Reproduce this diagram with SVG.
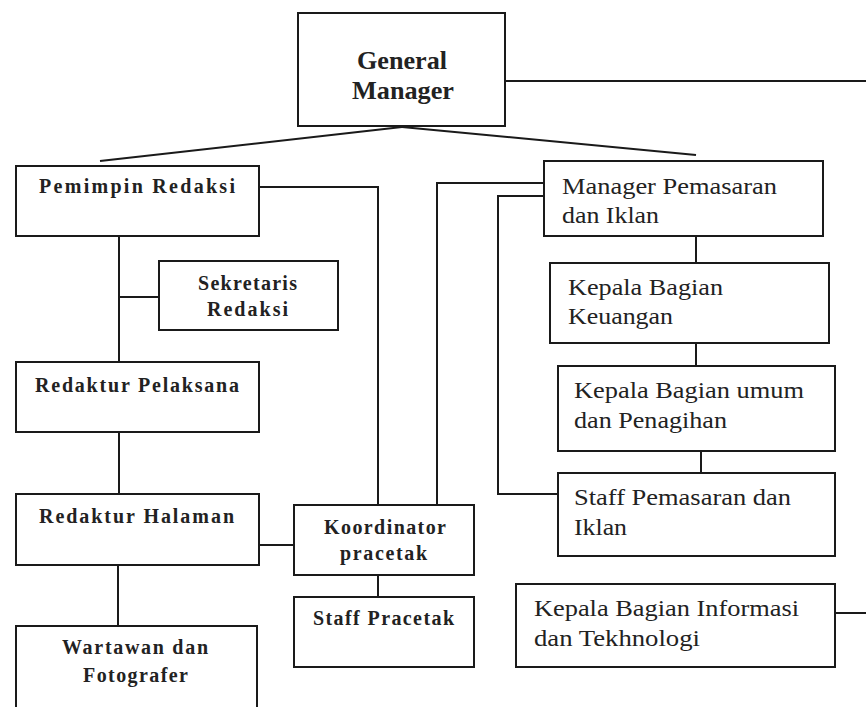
<svg xmlns="http://www.w3.org/2000/svg" width="866" height="707" viewBox="0 0 866 707">
<style>
.box{fill:#fff;stroke:#1a1a1a;stroke-width:2}
.ln{fill:none;stroke:#1a1a1a;stroke-width:2}
.b{font-family:"Liberation Serif","Times New Roman",serif;font-weight:bold;font-size:20px;fill:#222}
.gm{font-family:"Liberation Serif","Times New Roman",serif;font-weight:bold;font-size:26px;fill:#222}
.r{font-family:"Liberation Serif","Times New Roman",serif;font-size:24px;fill:#222}
</style>
<rect width="866" height="707" fill="#fff"/>
<g id="connectors">
<path class="ln" d="M505 81H866"/>
<path class="ln" d="M402 127L100 161"/>
<path class="ln" d="M402 127L696 155"/>
<path class="ln" d="M259 187H378V505"/>
<path class="ln" d="M119 236V362"/>
<path class="ln" d="M119 297H159"/>
<path class="ln" d="M119 432V494"/>
<path class="ln" d="M259 545H294"/>
<path class="ln" d="M378 575V597"/>
<path class="ln" d="M118 565V626"/>
<path class="ln" d="M544 183H437V505"/>
<path class="ln" d="M544 196H498V494H558"/>
<path class="ln" d="M696 236V263"/>
<path class="ln" d="M696 343V366"/>
<path class="ln" d="M701 451V473"/>
<path class="ln" d="M835 613H866"/>
</g>
<g id="general-manager">
<rect class="box" x="298" y="13" width="207" height="113"/>
<text class="gm" x="357" y="69" textLength="90" lengthAdjust="spacingAndGlyphs">General</text>
<text class="gm" x="352" y="99" textLength="102" lengthAdjust="spacingAndGlyphs">Manager</text>
</g>
<g id="pemimpin-redaksi">
<rect class="box" x="16" y="166" width="243" height="70"/>
<text class="b" x="39" y="193" textLength="196">Pemimpin Redaksi</text>
</g>
<g id="sekretaris-redaksi">
<rect class="box" x="159" y="261" width="179" height="69"/>
<text class="b" x="198" y="290" textLength="99">Sekretaris</text>
<text class="b" x="207" y="316" textLength="81">Redaksi</text>
</g>
<g id="redaktur-pelaksana">
<rect class="box" x="16" y="362" width="243" height="70"/>
<text class="b" x="35" y="392" textLength="204">Redaktur Pelaksana</text>
</g>
<g id="redaktur-halaman">
<rect class="box" x="16" y="494" width="243" height="71"/>
<text class="b" x="39" y="523" textLength="195">Redaktur Halaman</text>
</g>
<g id="wartawan-fotografer">
<rect class="box" x="16" y="626" width="241" height="100"/>
<text class="b" x="62" y="654" textLength="146">Wartawan dan</text>
<text class="b" x="83" y="682" textLength="105">Fotografer</text>
</g>
<g id="koordinator-pracetak">
<rect class="box" x="294" y="505" width="180" height="70"/>
<text class="b" x="324" y="534" textLength="122">Koordinator</text>
<text class="b" x="340" y="560" textLength="87">pracetak</text>
</g>
<g id="staff-pracetak">
<rect class="box" x="294" y="597" width="180" height="70"/>
<text class="b" x="313" y="625" textLength="141">Staff Pracetak</text>
</g>
<g id="manager-pemasaran">
<rect class="box" x="544" y="161" width="279" height="75"/>
<text class="r" x="562" y="194" textLength="215" lengthAdjust="spacingAndGlyphs">Manager Pemasaran</text>
<text class="r" x="562" y="223" textLength="97" lengthAdjust="spacingAndGlyphs">dan Iklan</text>
</g>
<g id="kepala-keuangan">
<rect class="box" x="550" y="263" width="279" height="80"/>
<text class="r" x="568" y="295" textLength="155" lengthAdjust="spacingAndGlyphs">Kepala Bagian</text>
<text class="r" x="568" y="324" textLength="105" lengthAdjust="spacingAndGlyphs">Keuangan</text>
</g>
<g id="kepala-umum">
<rect class="box" x="558" y="366" width="277" height="85"/>
<text class="r" x="574" y="398" textLength="230" lengthAdjust="spacingAndGlyphs">Kepala Bagian umum</text>
<text class="r" x="574" y="428" textLength="153" lengthAdjust="spacingAndGlyphs">dan Penagihan</text>
</g>
<g id="staff-pemasaran">
<rect class="box" x="558" y="473" width="277" height="83"/>
<text class="r" x="574" y="505" textLength="217" lengthAdjust="spacingAndGlyphs">Staff Pemasaran dan</text>
<text class="r" x="574" y="535" textLength="53" lengthAdjust="spacingAndGlyphs">Iklan</text>
</g>
<g id="kepala-informasi">
<rect class="box" x="516" y="584" width="319" height="83"/>
<text class="r" x="534" y="616" textLength="265" lengthAdjust="spacingAndGlyphs">Kepala Bagian Informasi</text>
<text class="r" x="534" y="646" textLength="166" lengthAdjust="spacingAndGlyphs">dan Tekhnologi</text>
</g>
</svg>
